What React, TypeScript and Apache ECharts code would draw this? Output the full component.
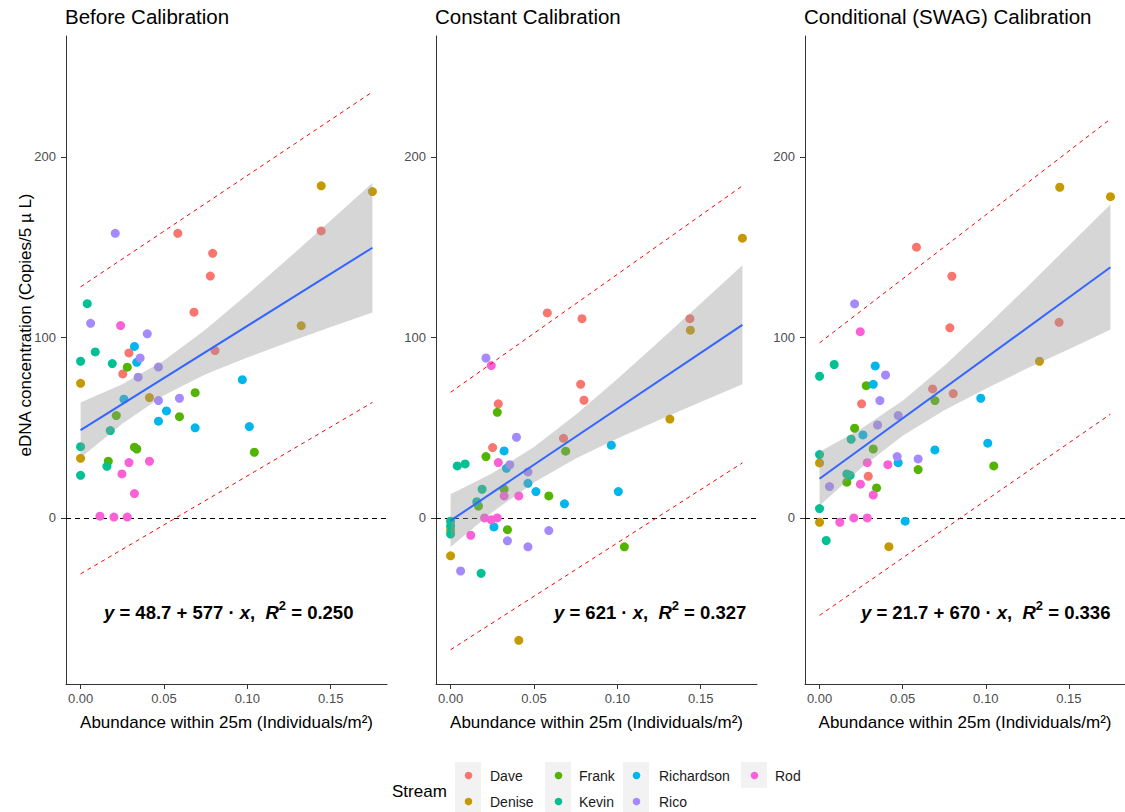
import React, { useEffect, useRef } from 'react';
import * as echarts from 'echarts';

const FONT = "'Liberation Sans', Arial, sans-serif";

const streams = ['Dave', 'Denise', 'Frank', 'Kevin', 'Richardson', 'Rico', 'Rod'];
const streamColors = ['#F8766D', '#C49A00', '#53B400', '#00C094', '#00B6EB', '#A58AFF', '#FB61D7'];

type Row = [string, number, number];

// Before Calibration
const beforePoints: Row[] = [
  ['Dave', 0.0583, 157.7], ['Dave', 0.0792, 146.6], ['Dave', 0.0778, 134.0], ['Dave', 0.068, 114.0],
  ['Dave', 0.0806, 92.7], ['Dave', 0.1443, 159.0], ['Dave', 0.029, 91.4], ['Dave', 0.0253, 79.8],
  ['Denise', 0.1443, 184.0], ['Denise', 0.175, 180.8], ['Denise', 0.1323, 106.5], ['Denise', 0, 74.6],
  ['Denise', 0.0413, 66.7], ['Denise', 0, 33.0],
  ['Frank', 0.028, 83.5], ['Frank', 0.0687, 69.4], ['Frank', 0.0593, 56.1], ['Frank', 0.0214, 56.7],
  ['Frank', 0.0323, 39.2], ['Frank', 0.0337, 38.2], ['Frank', 0.1042, 36.4], ['Frank', 0.0166, 31.4],
  ['Kevin', 0.004, 118.7], ['Kevin', 0.0088, 92.0], ['Kevin', 0, 86.8], ['Kevin', 0.019, 85.5],
  ['Kevin', 0.0178, 48.4], ['Kevin', 0, 39.5], ['Kevin', 0.0158, 28.6], ['Kevin', 0, 23.6],
  ['Richardson', 0.0323, 95.0], ['Richardson', 0.0337, 86.2], ['Richardson', 0.097, 76.6], ['Richardson', 0.0515, 59.3],
  ['Richardson', 0.0467, 53.6], ['Richardson', 0.0687, 49.9], ['Richardson', 0.1012, 50.6], ['Richardson', 0.026, 65.8],
  ['Rico', 0.0208, 157.7], ['Rico', 0.006, 107.8], ['Rico', 0.04, 102.0], ['Rico', 0.0357, 88.6],
  ['Rico', 0.0467, 83.6], ['Rico', 0.0345, 78.0], ['Rico', 0.0467, 65.0], ['Rico', 0.0593, 66.3],
  ['Rod', 0.024, 106.6], ['Rod', 0.029, 30.7], ['Rod', 0.0413, 31.4], ['Rod', 0.0248, 24.4],
  ['Rod', 0.0323, 13.5], ['Rod', 0.0116, 1.0], ['Rod', 0.02, 0.5], ['Rod', 0.028, 0.5],
];

// Constant Calibration
const constantPoints: Row[] = [
  ['Dave', 0.058, 113.6], ['Dave', 0.0788, 110.4], ['Dave', 0.1435, 110.4], ['Dave', 0.078, 74.0],
  ['Dave', 0.08, 65.2], ['Dave', 0.0286, 63.2], ['Dave', 0.0677, 44.1], ['Dave', 0.0252, 39.0],
  ['Denise', 0.175, 155.0], ['Denise', 0.1438, 104.0], ['Denise', 0.1315, 54.8], ['Denise', 0, -6.8],
  ['Denise', 0, -21.0], ['Denise', 0.0409, -67.8],
  ['Frank', 0.028, 58.5], ['Frank', 0.069, 37.0], ['Frank', 0.0212, 34.0], ['Frank', 0.0321, 15.9],
  ['Frank', 0.0589, 12.2], ['Frank', 0.0167, 6.6], ['Frank', 0.0341, -6.5], ['Frank', 0.1042, -16.0],
  ['Kevin', 0.004, 28.8], ['Kevin', 0.0087, 29.9], ['Kevin', 0.0189, 15.9], ['Kevin', 0.0157, 9.0],
  ['Kevin', 0, -1.8], ['Kevin', 0, -4.5], ['Kevin', 0, -8.9], ['Kevin', 0.0183, -30.7],
  ['Richardson', 0.0321, 37.1], ['Richardson', 0.0964, 40.3], ['Richardson', 0.0335, 27.5], ['Richardson', 0.0464, 19.2],
  ['Richardson', 0.0512, 14.6], ['Richardson', 0.1006, 14.6], ['Richardson', 0.0683, 7.8], ['Richardson', 0.026, -5.0],
  ['Rico', 0.0212, 88.6], ['Rico', 0.0395, 44.7], ['Rico', 0.0355, 29.5], ['Rico', 0.0464, 25.5],
  ['Rico', 0.0589, -7.0], ['Rico', 0.0341, -12.7], ['Rico', 0.0464, -16.0], ['Rico', 0.006, -29.4],
  ['Rod', 0.0244, 84.4], ['Rod', 0.0286, 30.7], ['Rod', 0.0321, 12.2], ['Rod', 0.0409, 12.2],
  ['Rod', 0.0204, 0], ['Rod', 0.0244, -1.0], ['Rod', 0.028, 0], ['Rod', 0.0121, -9.6],
];

// Conditional (SWAG) Calibration
const swagPoints: Row[] = [
  ['Dave', 0.0583, 150.0], ['Dave', 0.0796, 133.9], ['Dave', 0.0784, 105.3], ['Dave', 0.1441, 108.4],
  ['Dave', 0.068, 71.5], ['Dave', 0.0804, 68.9], ['Dave', 0.0253, 63.2], ['Dave', 0.0293, 23.1],
  ['Denise', 0.1445, 183.2], ['Denise', 0.175, 178.0], ['Denise', 0.1323, 86.8], ['Denise', 0, 30.5],
  ['Denise', 0, -2.4], ['Denise', 0.0417, -15.9],
  ['Frank', 0.0281, 73.3], ['Frank', 0.0694, 65.0], ['Frank', 0.0211, 49.7], ['Frank', 0.0323, 38.2],
  ['Frank', 0.1048, 28.8], ['Frank', 0.0593, 26.8], ['Frank', 0.0164, 19.8], ['Frank', 0.0343, 16.6],
  ['Kevin', 0.0088, 85.0], ['Kevin', 0, 78.5], ['Kevin', 0.019, 43.6], ['Kevin', 0, 35.1],
  ['Kevin', 0.0164, 24.4], ['Kevin', 0.0184, 23.6], ['Kevin', 0, 5.2], ['Kevin', 0.004, -12.5],
  ['Richardson', 0.0335, 84.2], ['Richardson', 0.0323, 74.0], ['Richardson', 0.097, 66.3], ['Richardson', 0.0261, 46.0],
  ['Richardson', 0.0694, 37.7], ['Richardson', 0.1012, 41.4], ['Richardson', 0.0473, 30.6], ['Richardson', 0.0515, -1.8],
  ['Rico', 0.0211, 118.6], ['Rico', 0.0397, 79.2], ['Rico', 0.0363, 65.0], ['Rico', 0.0473, 56.7],
  ['Rico', 0.0349, 51.5], ['Rico', 0.0467, 34.0], ['Rico', 0.0593, 32.7], ['Rico', 0.006, 17.4],
  ['Rod', 0.0245, 103.2], ['Rod', 0.0287, 30.6], ['Rod', 0.0411, 29.5], ['Rod', 0.0246, 18.7],
  ['Rod', 0.0323, 12.7], ['Rod', 0.0206, 0], ['Rod', 0.0287, 0], ['Rod', 0.0122, -2.4],
];

// confidence band (read at these x positions)
const bandX = [0, 0.025, 0.05, 0.075, 0.1, 0.125, 0.15, 0.175];
const beforeBandUpper = [64.0, 74.0, 87.2, 104.4, 123.9, 144.1, 164.8, 185.6];
const beforeBandLower = [33.4, 52.2, 68.0, 79.6, 88.9, 97.5, 105.8, 113.8];
const constantBandUpper = [13.1, 24.8, 39.3, 57.1, 77.0, 97.7, 118.8, 140.0];
const constantBandLower = [-16.1, 3.2, 19.7, 32.9, 44.0, 54.3, 64.2, 74.0];
const swagBandUpper = [36.7, 49.4, 64.9, 84.3, 105.8, 128.1, 150.9, 173.6];
const swagBandLower = [6.7, 27.6, 45.5, 59.7, 71.6, 82.9, 93.5, 104.4];

// fitted line and prediction limits (ends at x = 0 and x = 0.175)
const lineX = [0, 0.175];
const beforeFit = [48.7, 149.7];
const constantFit = [-1.5, 107.0];
const swagFit = [21.7, 138.9];
const beforePredUpper = [128.0, 236.0];
const beforePredLower = [-31.0, 64.0];
const constantPredUpper = [69.6, 184.0];
const constantPredLower = [-73.0, 30.5];
const swagPredUpper = [97.0, 221.0];
const swagPredLower = [-54.0, 57.5];

const xTicks = [0, 0.05, 0.1, 0.15];
const yTicks = [0, 100, 200];

const panelTitles = ['Before Calibration', 'Constant Calibration', 'Conditional (SWAG) Calibration'];
const equationParts = [
  { fit: '48.7 + 577', r2: '0.250' },
  { fit: '621', r2: '0.327' },
  { fit: '21.7 + 670', r2: '0.336' },
];

const X_MIN = -0.00875;
const X_MAX = 0.18375;
const Y_MIN = -92;
const Y_MAX = 267;

const GRID_LEFT = [66, 436, 805];
const GRID_WIDTH = [321, 321, 320];
const GRID_TOP = 36;
const GRID_HEIGHT = 648;
const EQ_LEFT = [104, 554, 861];

function buildOption() {
  const panels = [
    { pts: beforePoints, up: beforeBandUpper, lo: beforeBandLower, fit: beforeFit, pu: beforePredUpper, pl: beforePredLower },
    { pts: constantPoints, up: constantBandUpper, lo: constantBandLower, fit: constantFit, pu: constantPredUpper, pl: constantPredLower },
    { pts: swagPoints, up: swagBandUpper, lo: swagBandLower, fit: swagFit, pu: swagPredUpper, pl: swagPredLower },
  ];

  const grid: any[] = [];
  const xAxis: any[] = [];
  const yAxis: any[] = [];
  const series: any[] = [];
  const title: any[] = [];
  const graphic: any[] = [];

  panels.forEach((p, k) => {
    grid.push({ left: GRID_LEFT[k], top: GRID_TOP, width: GRID_WIDTH[k], height: GRID_HEIGHT, containLabel: false });
    title.push({
      text: panelTitles[k],
      left: GRID_LEFT[k] - 1,
      top: 6,
      padding: 0,
      textStyle: { fontFamily: FONT, fontSize: 20.5, fontWeight: 'normal', color: '#000' },
    });
    xAxis.push({
      gridIndex: k,
      type: 'value',
      min: X_MIN,
      max: X_MAX,
      axisLine: { show: true, onZero: false, lineStyle: { color: '#333', width: 1 } },
      axisTick: { show: true, length: 5, customValues: xTicks, lineStyle: { color: '#333' } },
      axisLabel: {
        customValues: xTicks,
        formatter: (v: number) => v.toFixed(2),
        color: '#4d4d4d',
        fontFamily: FONT,
        fontSize: 13,
        margin: 8,
      },
      splitLine: { show: false },
      name: 'Abundance within 25m (Individuals/m²)',
      nameLocation: 'middle',
      nameGap: 30,
      nameTextStyle: { fontFamily: FONT, fontSize: 17, color: '#000' },
    });
    yAxis.push({
      gridIndex: k,
      type: 'value',
      min: Y_MIN,
      max: Y_MAX,
      axisLine: { show: true, onZero: false, lineStyle: { color: '#333', width: 1 } },
      axisTick: { show: true, length: 5, customValues: yTicks, lineStyle: { color: '#333' } },
      axisLabel: {
        customValues: yTicks,
        color: '#4d4d4d',
        fontFamily: FONT,
        fontSize: 13,
        margin: 10,
      },
      splitLine: { show: false },
    });

    streams.forEach((s, si) => {
      series.push({
        type: 'scatter',
        name: s,
        xAxisIndex: k,
        yAxisIndex: k,
        data: p.pts.filter((r) => r[0] === s).map((r) => [r[1], r[2]]),
        symbol: 'circle',
        symbolSize: 9,
        itemStyle: { color: streamColors[si], opacity: 1 },
        z: 2,
        silent: true,
      });
    });

    const up = p.up;
    const lo = p.lo;
    series.push({
      type: 'custom',
      xAxisIndex: k,
      yAxisIndex: k,
      data: [[0, 0]],
      z: 3,
      silent: true,
      renderItem: (_params: any, api: any) => {
        const pts: number[][] = [];
        bandX.forEach((x, i) => pts.push(api.coord([x, up[i]])));
        for (let i = bandX.length - 1; i >= 0; i--) pts.push(api.coord([bandX[i], lo[i]]));
        return {
          type: 'polygon',
          shape: { points: pts },
          style: { fill: 'rgba(153,153,153,0.4)', stroke: 'none' },
        };
      },
    });

    series.push({
      type: 'line',
      xAxisIndex: k,
      yAxisIndex: k,
      data: lineX.map((x, i) => [x, p.fit[i]]),
      showSymbol: false,
      symbol: 'none',
      lineStyle: { color: '#3366FF', width: 2 },
      z: 5,
      silent: true,
      markLine: {
        silent: true,
        symbol: ['none', 'none'],
        label: { show: false },
        lineStyle: { color: '#000', width: 1, type: [5, 4] },
        data: [{ yAxis: 0 }],
        z: 1,
      },
    });
    [p.pu, p.pl].forEach((arr) => {
      series.push({
        type: 'line',
        xAxisIndex: k,
        yAxisIndex: k,
        data: lineX.map((x, i) => [x, arr[i]]),
        showSymbol: false,
        symbol: 'none',
        lineStyle: { color: '#FF0000', width: 1, type: [4, 4] },
        z: 4,
        silent: true,
      });
    });

    const eq = equationParts[k];
    graphic.push({
      type: 'text',
      left: EQ_LEFT[k],
      top: 599,
      silent: true,
      style: {
        text: `{i|y}{b| = ${eq.fit} · }{i|x}{b|,  }{i|R}{s|2}{b| = ${eq.r2}}`,
        fill: '#000',
        font: `bold 18.5px ${FONT}`,
        rich: {
          i: { fontFamily: FONT, fontSize: 18.5, fontWeight: 'bold', fontStyle: 'italic', lineHeight: 26, fill: '#000' },
          b: { fontFamily: FONT, fontSize: 18.5, fontWeight: 'bold', lineHeight: 26, fill: '#000' },
          s: { fontFamily: FONT, fontSize: 13, fontWeight: 'bold', lineHeight: 13, verticalAlign: 'top', fill: '#000' },
        },
      },
    });
  });

  // y axis title
  graphic.push({
    type: 'text',
    x: 25,
    y: 325,
    rotation: Math.PI / 2,
    silent: true,
    style: {
      text: 'eDNA concentration (Copies/5 µ L)',
      fill: '#000',
      font: `17px ${FONT}`,
      align: 'center',
      verticalAlign: 'middle',
    },
  });

  // legend
  graphic.push({
    type: 'text',
    x: 392,
    y: 791,
    silent: true,
    style: { text: 'Stream', fill: '#000', font: `17px ${FONT}`, align: 'left', verticalAlign: 'middle' },
  });
  const colBox = [455, 545, 623, 741];
  const colLabel = [490, 579, 659, 775];
  streams.forEach((s, i) => {
    const c = Math.floor(i / 2);
    const r = i % 2;
    const top = 762 + r * 26;
    graphic.push({
      type: 'rect',
      silent: true,
      shape: { x: colBox[c], y: top, width: 26, height: 26 },
      style: { fill: '#F2F2F2' },
    });
    graphic.push({
      type: 'circle',
      silent: true,
      shape: { cx: colBox[c] + 13.5, cy: top + 13.5, r: 3.8 },
      style: { fill: streamColors[i] },
    });
    graphic.push({
      type: 'text',
      silent: true,
      x: colLabel[c],
      y: top + 14,
      style: { text: s, fill: '#1a1a1a', font: `14px ${FONT}`, align: 'left', verticalAlign: 'middle' },
    });
  });

  return {
    animation: false,
    backgroundColor: '#fff',
    title,
    grid,
    xAxis,
    yAxis,
    series,
    graphic,
  };
}

export default function App() {
  const ref = useRef<HTMLDivElement>(null);
  useEffect(() => {
    if (!ref.current) return;
    const chart = echarts.init(ref.current, null, { renderer: 'svg' });
    chart.setOption(buildOption() as any);
    return () => chart.dispose();
  }, []);
  return (
    <div
      ref={ref}
      style={{ position: 'absolute', left: 0, top: 0, width: 1125, height: 812 }}
    />
  );
}
